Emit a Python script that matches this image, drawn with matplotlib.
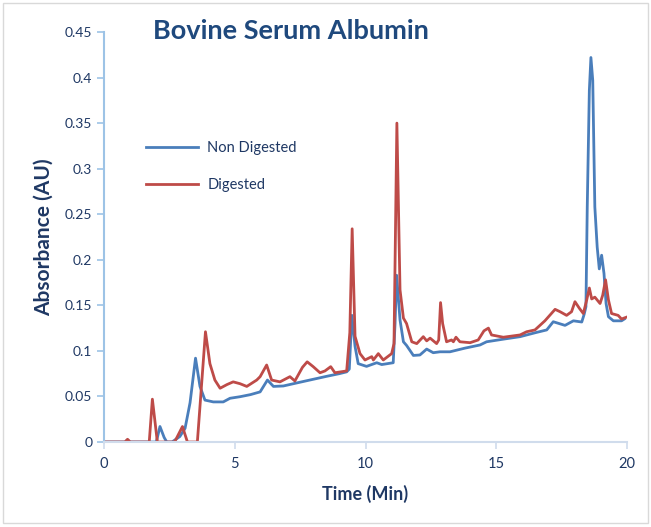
import matplotlib
matplotlib.use("Agg")
import matplotlib.pyplot as plt
from matplotlib.patches import Rectangle
from matplotlib.ticker import FuncFormatter

# time (min) / absorbance (AU)
non_dig_t = [0, 0.8, 0.9, 1.0, 2.0, 2.14, 2.3, 2.4, 2.6, 2.9, 3.1, 3.29, 3.5, 3.67, 3.86,
             4.18, 4.56, 4.82, 5.2, 5.6, 5.97, 6.25, 6.48, 6.86, 7.4, 7.87, 8.5, 9.0, 9.28,
             9.38, 9.48, 9.6, 9.72, 10.04, 10.43, 10.62, 11.06, 11.13, 11.19, 11.32, 11.45,
             11.57, 11.83, 12.08, 12.34, 12.59, 12.85, 13.23, 13.8, 14.38, 14.63, 15.3,
             15.91, 16.5, 16.93, 17.18, 17.63, 17.95, 18.27, 18.36, 18.43, 18.48, 18.56,
             18.62, 18.69, 18.77, 18.86, 18.94, 19.03, 19.12, 19.2, 19.29, 19.48, 19.79, 19.9]
non_dig_a = [0, 0, 0.002, 0, 0, 0.017, 0.005, 0, 0, 0.006, 0.015, 0.043, 0.092, 0.061, 0.046,
             0.044, 0.044, 0.048, 0.0497, 0.052, 0.055, 0.068, 0.061, 0.0615, 0.065, 0.068,
             0.072, 0.075, 0.077, 0.08, 0.139, 0.105, 0.086, 0.083, 0.087, 0.085, 0.087, 0.13,
             0.183, 0.134, 0.11, 0.106, 0.095, 0.0955, 0.102, 0.098, 0.099, 0.099, 0.103,
             0.1065, 0.11, 0.113, 0.1156, 0.12, 0.123, 0.132, 0.128, 0.133, 0.1317, 0.14,
             0.1485, 0.258, 0.386, 0.422, 0.397, 0.258, 0.214, 0.19, 0.205, 0.185, 0.152,
             0.1375, 0.133, 0.133, 0.135]

dig_t = [0, 0.8, 0.9, 1.0, 1.73, 1.85, 2.04, 2.7, 3.0, 3.19, 3.57, 3.88, 4.05, 4.24, 4.44,
         4.7, 4.94, 5.2, 5.46, 5.84, 5.97, 6.22, 6.41, 6.73, 7.11, 7.3, 7.59, 7.77, 8.0,
         8.26, 8.45, 8.67, 8.83, 9.28, 9.4, 9.49, 9.6, 9.79, 9.98, 10.24, 10.3, 10.49,
         10.68, 11.0, 11.09, 11.2, 11.32, 11.45, 11.57, 11.77, 11.96, 12.21, 12.34, 12.47,
         12.72, 12.8, 12.87, 12.95, 13.1, 13.29, 13.36, 13.46, 13.61, 14.0, 14.31, 14.53,
         14.7, 14.82, 15.27, 15.91, 16.16, 16.48, 16.86, 17.25, 17.44, 17.69, 17.88, 18.01,
         18.18, 18.33, 18.46, 18.56, 18.65, 18.77, 18.97, 19.07, 19.18, 19.29, 19.41,
         19.66, 19.79, 19.98]
dig_a = [0, 0, 0.003, 0, 0, 0.047, 0, 0, 0.017, 0, 0, 0.121, 0.086, 0.068, 0.059,
         0.063, 0.066, 0.064, 0.061, 0.068, 0.0717, 0.0845, 0.068, 0.066, 0.0717, 0.067,
         0.082, 0.088, 0.0827, 0.076, 0.078, 0.0827, 0.076, 0.078, 0.12, 0.234, 0.116,
         0.097, 0.09, 0.0937, 0.09, 0.097, 0.09, 0.097, 0.108, 0.35, 0.167, 0.136, 0.13,
         0.11, 0.108, 0.1156, 0.111, 0.114, 0.108, 0.112, 0.153, 0.13, 0.11, 0.112, 0.11,
         0.115, 0.11, 0.109, 0.112, 0.122, 0.125, 0.1175, 0.115, 0.1175, 0.121, 0.123,
         0.133, 0.1456, 0.143, 0.139, 0.143, 0.154, 0.1467, 0.141, 0.156, 0.169, 0.157,
         0.159, 0.152, 0.161, 0.178, 0.156, 0.141, 0.139, 0.135, 0.137]

x_ticks = [0, 5, 10, 15, 20]
y_ticks = [0, 0.05, 0.1, 0.15, 0.2, 0.25, 0.3, 0.35, 0.4, 0.45]

txt = '#1f3864'
plt.rcParams['font.family'] = ['Lato', 'DejaVu Sans']

fig = plt.figure(figsize=(6.51, 5.27), dpi=100)
ax = fig.add_axes([104/651, 1-442/527, 523/651, 410/527])

ax.plot(non_dig_t, non_dig_a, color='#4a7ebb', lw=2, label='Non Digested')
ax.plot(dig_t, dig_a, color='#be4b48', lw=2, label='Digested')

ax.set_xlim(0, 20)
ax.set_ylim(0, 0.45)
ax.set_xticks(x_ticks)
ax.set_yticks(y_ticks)
ax.yaxis.set_major_formatter(FuncFormatter(lambda v, p: '0' if v == 0 else ('%.2f' % v).rstrip('0')))
for s in ['top', 'right']:
    ax.spines[s].set_visible(False)
ax.spines['left'].set_color('#9dc3e6')
ax.spines['bottom'].set_color('#d0dcec')
ax.spines['left'].set_linewidth(1.5)
ax.spines['bottom'].set_linewidth(1.5)
ax.tick_params(axis='y', colors='#9dc3e6', labelcolor=txt, labelsize=10, length=5, width=1.2)
ax.tick_params(axis='x', colors='#d0dcec', labelcolor=txt, labelsize=10.5, length=5, width=1.2, pad=6)

ax.set_xlabel('Time (Min)', fontsize=13, fontweight='bold', color=txt, labelpad=10)
ax.set_ylabel('Absorbance (AU)', fontsize=15, fontweight='bold', color=txt, labelpad=8)
fig.text(153/651, 1-31/527, 'Bovine Serum Albumin', fontsize=19.5, fontweight='bold',
         color='#1f497d', va='center', ha='left')

leg = ax.legend(loc='upper left', bbox_to_anchor=(0.055, 0.765), frameon=False,
                fontsize=10.5, handlelength=3.6, labelspacing=1.55, handletextpad=0.6)
for t in leg.get_texts():
    t.set_color(txt)

fig.patches.append(Rectangle((3/651, 4/527), 645/651, 520/527, transform=fig.transFigure,
                             fill=False, edgecolor='#d9d9d9', lw=1))

fig.savefig('out.png', dpi=100)
